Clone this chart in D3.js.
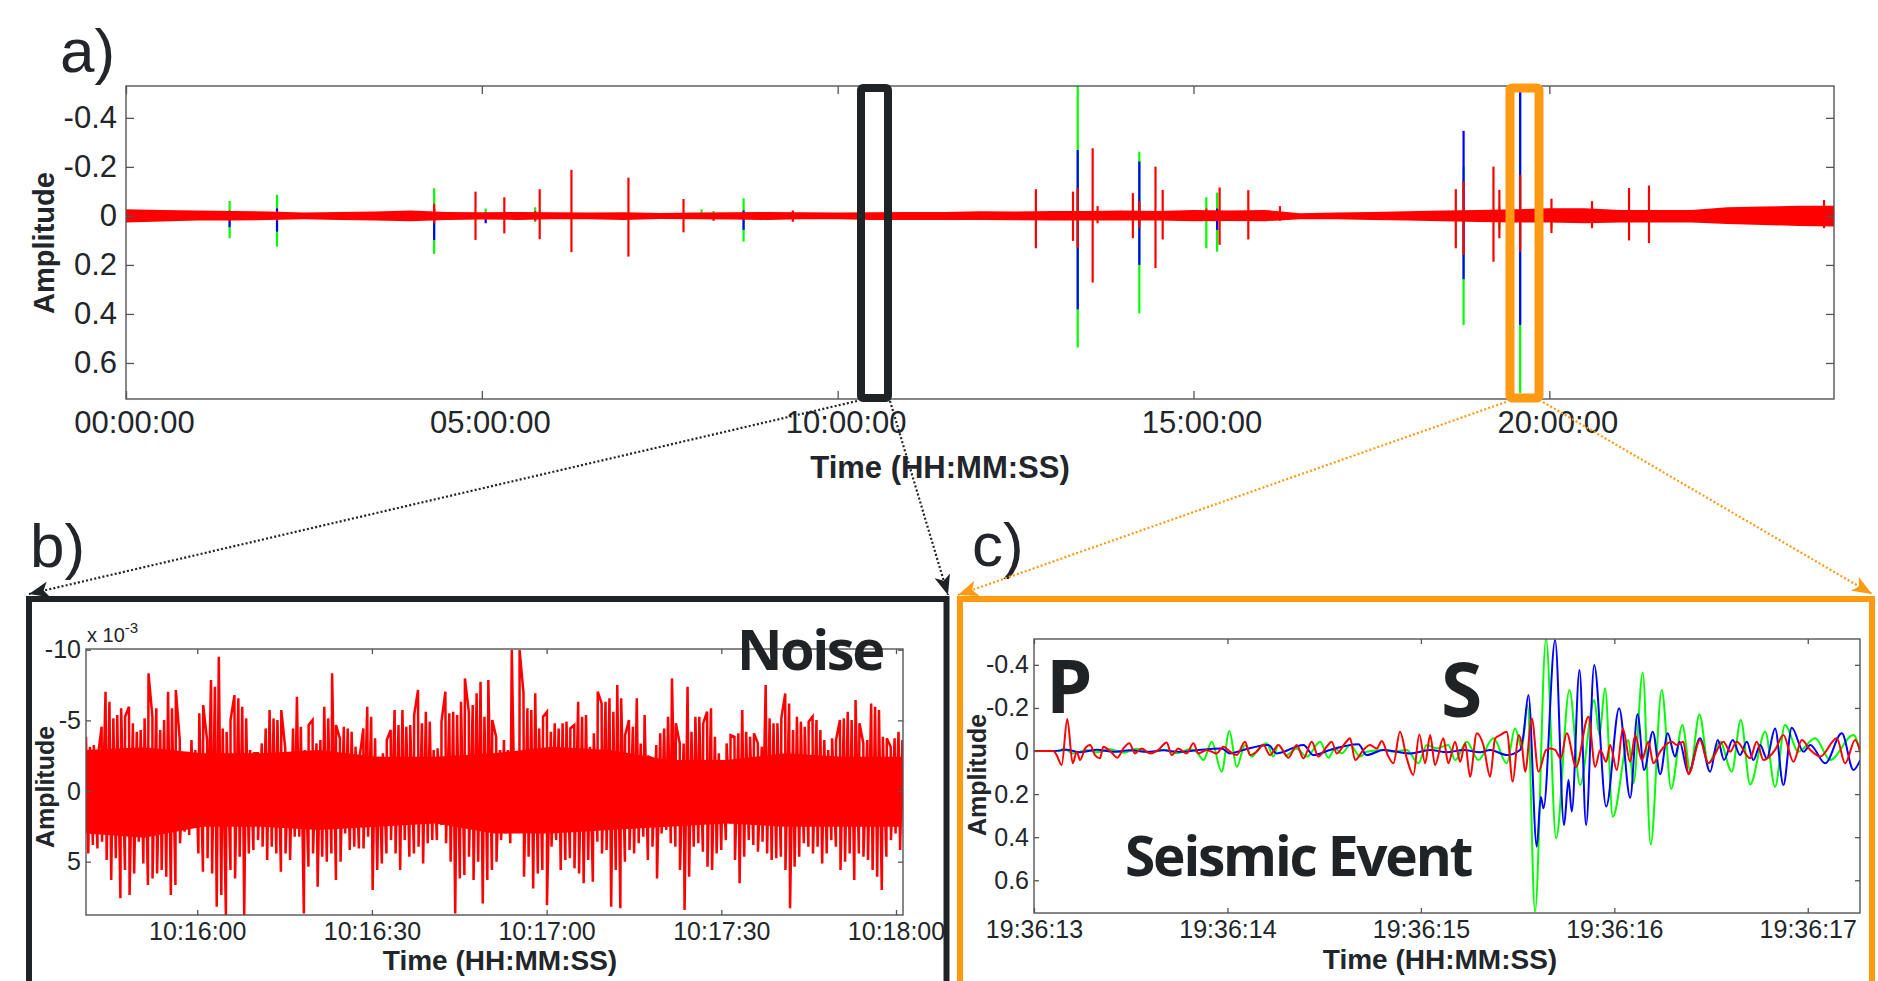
<!DOCTYPE html>
<html>
<head>
<meta charset="utf-8">
<script src="https://cdn.jsdelivr.net/npm/d3@7"></script>
<style>
  body { margin: 0; background: #fff; }
  svg text { font-family: "Liberation Sans", Arial, sans-serif; fill: #22262a; }
  .big { font-family: "Open Sans", "Noto Sans", sans-serif; font-weight: 700; fill: #1f2326; }
  .title { font-weight: bold; }
  .axis .domain { display: none; }
  .axis line { stroke: #555; stroke-width: 1.3; }
</style>
</head>
<body>
<svg id="fig" width="1878" height="981"></svg>
<script>

// ---- panel a: 24 h record (hours, amplitude) ----
var hourTicks = [0, 5, 10, 15, 20];
var ampTicks = [-0.4, -0.2, 0, 0.2, 0.4, 0.6];

var bandHours = d3.range(0, 24.01, 0.5);
var bandTop = [-0.027, -0.0245, -0.0218, -0.0204, -0.0177, -0.0136, -0.0163, -0.0177, -0.0218, -0.0163,
  -0.015, -0.0163, -0.015, -0.0136, -0.015, -0.0122, -0.0136, -0.015, -0.0163, -0.015,
  -0.0136, -0.015, -0.0163, -0.0163, -0.019, -0.0177, -0.0204, -0.0204, -0.0218, -0.0204,
  -0.0245, -0.0218, -0.0245, -0.0109, -0.0136, -0.0163, -0.019, -0.0218, -0.0245, -0.027,
  -0.0313, -0.0313, -0.0245, -0.0245, -0.0245, -0.0354, -0.038, -0.041, -0.041];
var bandBottom = [0.027, 0.023, 0.019, 0.019, 0.0163, 0.0136, 0.0163, 0.019, 0.0218, 0.0163,
  0.015, 0.0163, 0.0136, 0.0136, 0.0163, 0.0122, 0.0136, 0.015, 0.0163, 0.0136,
  0.0136, 0.0163, 0.0163, 0.0163, 0.0163, 0.0177, 0.019, 0.019, 0.019, 0.019,
  0.0218, 0.0204, 0.0218, 0.0136, 0.0136, 0.0163, 0.019, 0.0218, 0.0245, 0.027,
  0.027, 0.030, 0.027, 0.027, 0.027, 0.0327, 0.0367, 0.041, 0.0435];

var spikeHours = [1.456, 2.122, 4.33, 4.911, 5.054, 5.316, 5.75, 5.813, 6.259, 7.06,
  7.834, 8.087, 8.256, 8.678, 9.37, 12.785, 13.307, 13.373, 13.583, 13.652,
  14.148, 14.239, 14.466, 14.567, 15.18, 15.332, 15.367, 15.77, 16.215, 18.686,
  18.795, 19.215, 19.298, 19.59, 20.03, 20.6, 21.12, 21.4, 23.86];
var spikeGreen = [[-0.061, 0.091], [-0.086, 0.125], [-0.113, 0.155], [0, 0], [-0.03, 0.01], [0, 0], [-0.035, 0.025], [0, 0], [0, 0], [0, 0],
  [0, 0], [-0.027, 0.01], [-0.02, 0.015], [-0.072, 0.105], [0, 0], [0, 0], [0, 0], [-0.53, 0.537], [0, 0], [0, 0],
  [0, 0], [-0.262, 0.397], [0, 0], [0, 0], [-0.076, 0.132], [-0.095, 0.146], [0, 0], [0, 0], [0, 0], [0, 0],
  [-0.2, 0.445], [0, 0], [-0.04, 0.055], [-0.52, 0.723], [-0.03, 0.05], [0, 0], [0, 0], [0, 0], [0, 0]];
var spikeBlue = [[-0.01, 0.046], [-0.031, 0.064], [-0.03, 0.098], [0, 0], [-0.01, 0.03], [0, 0], [0, 0], [0, 0], [0, 0], [0, 0],
  [0, 0], [0, 0], [0, 0], [-0.022, 0.057], [0, 0], [0, 0], [0, 0], [-0.269, 0.381], [0, 0], [0, 0],
  [0, 0], [-0.222, 0.2], [0, 0], [0, 0], [0, 0], [-0.03, 0.057], [0, 0], [0, 0], [0, 0], [0, 0],
  [-0.347, 0.258], [0, 0], [0, 0], [-0.507, 0.445], [0, 0], [0, 0], [0, 0], [0, 0], [0, 0]];
var spikeRed = [[-0.022, 0.022], [-0.02, 0.02], [-0.05, 0.03], [-0.099, 0.098], [-0.015, 0.015], [-0.076, 0.071], [-0.02, 0.02], [-0.109, 0.095], [-0.188, 0.148], [-0.156, 0.166],
  [-0.069, 0.067], [0, 0], [-0.012, 0.02], [0, 0], [-0.022, 0.024], [-0.109, 0.132], [-0.099, 0.102], [-0.114, 0.131], [-0.276, 0.272], [-0.04, 0.03],
  [-0.093, 0.091], [-0.06, 0.05], [-0.201, 0.213], [-0.106, 0.096], [-0.03, 0.02], [0, 0], [-0.116, 0.118], [-0.105, 0.096], [-0.04, 0.02], [-0.109, 0.132],
  [-0.14, 0.159], [-0.201, 0.187], [-0.106, 0.091], [-0.167, 0.146], [-0.07, 0.07], [-0.06, 0.05], [-0.114, 0.1], [-0.124, 0.111], [-0.065, 0.05]];

// ---- panel b: noise window (seconds after 10:16:00, amplitude x 1e-3) ----
var noiseTicks = [0, 30, 60, 90, 120];
var noiseAmpTicks = [-10, -5, 0, 5];
var noiseSpan = [-19.1, 121.1];
var noiseUpper = [-3.84, -3.14, -3.25, -2.31, -4.55, -7.03, -6.32, -5.14, -5.38, -5.85,
  -5.26, -5.97, -4.79, -4.2, -4.32, -5.14, -8.33, -5.26, -5.85, -4.32,
  -5.02, -7.03, -5.85, -7.15, -3.61, -2.31, -2.78, -3.61, -2.9, -5.5,
  -6.08, -3.61, -7.85, -7.38, -9.5, -4.43, -4.2, -5.02, -6.79, -6.56,
  -5.97, -5.14, -2.9, -2.67, -2.67, -3.37, -4.43, -5.73, -5.14, -5.02,
  -5.73, -3.02, -2.67, -4.43, -6.67, -4.55, -2.9, -4.67, -5.02, -3.37,
  -3.61, -5.97, -5.14, -8.33, -4.67, -3.73, -4.55, -4.43, -4.2, -3.14,
  -2.31, -4.43, -5.97, -5.26, -3.73, -2.43, -2.67, -3.61, -4.32, -5.73,
  -4.67, -5.73, -4.55, -4.67, -5.38, -7.15, -4.79, -5.61, -4.91, -2.9,
  -3.02, -4.91, -7.03, -5.5, -5.61, -5.38, -6.32, -7.97, -5.61, -6.08,
  -6.91, -7.74, -5.26, -7.85, -5.02, -3.84,
  -2.9, -3.61, -2.9, -9.98, -2.67, -9.98, -6.91, -5.85, -5.73, -6.91,
  -4.43, -5.26, -5.61, -4.2, -4.79, -4.43, -4.79, -4.91, -4.43, -4.67,
  -6.32, -5.26, -5.38, -3.14, -4.08, -7.03, -6.2, -6.32, -6.56, -5.61,
  -7.5, -6.56, -3.96, -5.02, -4.55, -6.56, -3.37, -5.38, -2.43, -2.31,
  -3.25, -4.08, -4.43, -5.26, -7.97, -4.79, -3.37, -3.37, -7.38, -4.2,
  -5.26, -5.26, -4.79, -5.61, -5.85, -3.84, -2.67, -2.19, -3.37, -3.96,
  -3.84, -4.08, -5.73, -4.2, -3.84, -4.08, -3.37, -3.14, -7.5, -5.14,
  -4.79, -4.79, -5.14, -6.91, -6.2, -4.32, -5.26, -4.91, -4.55, -4.91,
  -5.26, -5.02, -4.32, -3.61, -2.9, -3.73, -3.61, -5.02, -5.14, -5.61,
  -5.02, -6.44, -4.79, -3.37, -3.61, -6.2, -5.97, -5.73, -3.84, -3.73,
  -3.14, -3.73, -4.2, -3.61];
var noiseLower = [4.41, 3.82, 4.06, 3.58, 4.88, 6.3, 4.76, 7.59, 5.59, 7.36,
  5.83, 3.58, 5.12, 6.65, 6.18, 5.83, 5.59, 6.06, 7.36, 6.65,
  3.7, 2.88, 3.11, 2.52, 4.41, 5.71, 4.76, 5.83, 8.18, 7.36,
  8.77, 5.59, 6.18, 4.65, 8.77, 4.41, 4.17, 3.47, 3.94, 4.88,
  3.94, 4.41, 5.71, 4.41, 4.88, 3.23, 3.23, 8.66, 5.35, 4.41,
  6.77, 4.65, 5.0, 4.41, 6.3, 5.0, 3.0, 4.17, 3.94, 4.06,
  4.06, 3.23, 7.0, 5.59, 5.12, 4.41, 3.47, 4.41, 5.59, 3.47,
  4.65, 4.41, 3.94, 5.12, 3.7, 3.47, 3.47, 2.41, 3.7, 5.0,
  8.66, 6.18, 5.94, 4.65, 6.3, 5.0, 7.95, 6.3, 5.59, 5.0,
  3.47, 3.0,
  3.7, 2.52, 2.05, 6.06, 4.65, 6.89, 5.83, 5.59, 8.07, 3.94,
  3.47, 5.59, 4.88, 4.76, 5.47, 5.83, 6.53, 4.88, 6.42, 3.58,
  4.41, 4.17, 8.18, 5.59, 8.3, 5.0, 4.17, 4.41, 3.7, 3.23,
  4.88, 3.94, 6.18, 3.0, 2.76, 3.7, 3.94, 5.59, 8.42, 6.06,
  3.94, 3.7, 4.29, 5.35, 5.59, 4.41, 4.17, 3.47, 2.29, 4.88,
  6.53, 4.65, 3.47, 3.82, 4.29, 3.58, 4.41, 4.88, 4.76, 4.65,
  5.59, 8.3, 5.35, 4.65, 3.7, 3.94, 4.41, 3.94, 5.12, 4.41,
  3.47, 3.94, 5.59, 5.0, 4.41, 6.3, 4.41, 4.65, 4.88, 5.59,
  6.06, 7.0, 4.65, 3.47, 3.0, 4.17, 6.06];
// solid core of the noise band, every 10 s from the start of the window
var noiseCoreTop = [-2.9, -3.1, -2.67, -2.67, -2.9, -2.43, -2.43, -2.67, -3.14, -2.9, -2.19, -2.19, -2.67, -2.43, -2.43];
var noiseCoreBottom = [3.0, 3.3, 2.52, 2.52, 2.76, 2.52, 2.29, 3.0, 3.0, 2.76, 2.52, 2.29, 2.52, 2.52, 2.52];

// ---- panel c: seismic event (seconds after 19:36:13, amplitude) ----
var eventTicks = [0, 1, 2, 3, 4];
var eventGreen = [[0, 0], [0.134, 0], [0.152, -0.012], [0.203, 0.011], [0.272, -0.005], [0.324, 0.006], [0.393, -0.008], [0.462, 0.008], [0.531, -0.01], [0.6, 0.008],
  [0.669, -0.006], [0.738, 0.01], [0.807, -0.008], [0.841, 0.005], [0.876, 0.042], [0.919, -0.043], [0.97, 0.096], [1.01, -0.093], [1.048, 0.073], [1.091, -0.028],
  [1.125, 0.026], [1.169, -0.02], [1.203, -0.036], [1.237, 0.026], [1.263, -0.028], [1.306, 0.019], [1.358, -0.012], [1.41, 0.026], [1.479, -0.043], [1.522, 0.031],
  [1.556, -0.012], [1.591, 0.011], [1.634, -0.028], [1.686, 0.026], [1.72, 0.003], [1.806, -0.005], [1.858, 0.003], [1.927, -0.005], [1.987, 0.057], [2.03, -0.028],
  [2.082, -0.012], [2.142, -0.028], [2.177, 0.042], [2.237, -0.043], [2.297, 0.042], [2.375, -0.059], [2.444, 0.057], [2.487, -0.105], [2.522, -0.012], [2.551, -0.213],
  [2.59, 0.746], [2.647, -0.523], [2.699, 0.405], [2.768, -0.283], [2.823, 0.158], [2.896, -0.237], [2.923, -0.074], [2.952, -0.291], [2.992, 0.305], [3.073, -0.051],
  [3.099, 0.15], [3.147, -0.365], [3.188, 0.433], [3.245, -0.283], [3.294, 0.176], [3.352, -0.121], [3.392, 0.088], [3.44, -0.17], [3.486, 0.057], [3.547, -0.043],
  [3.607, 0.096], [3.654, -0.144], [3.702, 0.155], [3.78, -0.09], [3.831, 0.166], [3.882, -0.121], [3.952, 0.003], [4.038, -0.059], [4.116, 0.042], [4.236, -0.074],
  [4.271, 0.003]];
var eventBlue = [[0, 0], [0.1, 0], [0.169, -0.006], [0.238, 0.006], [0.324, -0.006], [0.41, 0.004], [0.496, -0.004], [0.583, 0.004], [0.669, -0.003], [0.755, 0.004],
  [0.841, -0.004], [0.97, -0.012], [1.013, 0.011], [1.082, -0.005], [1.212, -0.028], [1.255, 0.011], [1.393, -0.028], [1.444, 0.019], [1.53, -0.005], [1.677, -0.031],
  [1.72, 0.019], [1.806, -0.005], [1.944, 0.011], [2.048, -0.005], [2.134, 0.006], [2.22, -0.005], [2.306, 0.006], [2.358, -0.005], [2.444, 0.019], [2.513, -0.005],
  [2.53, -0.074], [2.556, -0.26], [2.599, 0.444], [2.62, 0.212], [2.634, 0.266], [2.694, -0.515], [2.74, 0.344], [2.763, 0.135], [2.78, 0.281], [2.82, -0.376],
  [2.854, 0.344], [2.896, -0.399], [2.958, 0.258], [3.025, -0.198], [3.082, 0.217], [3.12, -0.172], [3.154, 0.088], [3.199, -0.09], [3.237, 0.108], [3.276, -0.082],
  [3.314, 0.026], [3.337, -0.043], [3.383, 0.104], [3.443, -0.059], [3.495, 0.096], [3.535, -0.051], [3.567, 0.042], [3.612, -0.051], [3.65, 0.019], [3.685, -0.043],
  [3.719, 0.042], [3.754, -0.028], [3.788, 0.034], [3.831, -0.105], [3.874, 0.158], [3.917, -0.108], [3.978, 0.003], [4.013, -0.028], [4.09, 0.057], [4.176, -0.082],
  [4.236, 0.088], [4.271, 0.042]];
var eventRed = [[0, 0], [0.1, 0], [0.117, 0.019], [0.143, 0.065], [0.172, -0.149], [0.2, 0.057], [0.221, 0.003], [0.238, 0.042], [0.264, -0.012], [0.29, -0.028],
  [0.315, 0.019], [0.341, 0.034], [0.358, -0.02], [0.393, 0], [0.431, 0.031], [0.462, -0.012], [0.493, -0.036], [0.522, 0.011], [0.557, -0.012], [0.6, 0.011],
  [0.643, -0.005], [0.686, -0.04], [0.712, 0.019], [0.746, -0.012], [0.789, 0.011], [0.824, -0.036], [0.85, 0.011], [0.893, -0.005], [0.944, 0.011], [0.979, -0.02],
  [1.013, 0.003], [1.048, 0.019], [1.091, -0.043], [1.117, 0.019], [1.151, 0.003], [1.186, -0.028], [1.22, 0.019], [1.263, -0.028], [1.315, 0.031], [1.358, -0.028],
  [1.393, 0.034], [1.436, -0.043], [1.47, 0.026], [1.513, -0.02], [1.539, -0.043], [1.565, 0.011], [1.608, -0.036], [1.634, -0.059], [1.66, 0.042], [1.703, -0.005],
  [1.737, -0.028], [1.772, -0.012], [1.798, -0.046], [1.832, 0.026], [1.858, 0.057], [1.892, -0.09], [1.927, 0.034], [1.961, 0.111], [1.992, -0.077], [2.022, 0.057],
  [2.048, -0.074], [2.073, 0.065], [2.116, -0.059], [2.142, 0.057], [2.177, -0.043], [2.203, 0.05], [2.229, -0.036], [2.254, 0.119], [2.289, -0.082], [2.323, -0.028],
  [2.358, 0.119], [2.384, -0.059], [2.41, -0.074], [2.444, -0.09], [2.475, 0.142], [2.505, -0.074], [2.522, -0.028], [2.539, 0.096], [2.573, -0.151], [2.608, 0.096],
  [2.647, -0.005], [2.668, -0.012], [2.694, -0.005], [2.723, 0.034], [2.754, -0.082], [2.802, 0.073], [2.866, -0.159], [2.901, 0.073], [2.927, -0.005], [2.958, 0.05],
  [2.978, -0.028], [3.013, 0.088], [3.044, -0.105], [3.082, 0.05], [3.108, -0.074], [3.142, 0.042], [3.176, -0.043], [3.202, 0.057], [3.237, 0.003], [3.297, -0.043],
  [3.323, -0.028], [3.357, -0.043], [3.383, 0.108], [3.443, -0.051], [3.486, 0.057], [3.564, -0.043], [3.599, 0.003], [3.633, -0.043], [3.702, 0.034], [3.736, -0.043],
  [3.771, 0.042], [3.831, -0.005], [3.874, -0.074], [3.926, 0.05], [3.969, -0.051], [4.013, -0.005], [4.064, 0.026], [4.15, -0.059], [4.193, 0.057], [4.245, -0.051],
  [4.271, 0.003]];

var GREEN = "#00ff00", BLUE = "#0000ff", RED = "#ff0000",
    DARK = "#1f2326", ORANGE = "#ff9a12";

var svg = d3.select("#fig");

function hms(s) {
  var f = d3.format("02d");
  return f(Math.floor(s / 3600)) + ":" + f(Math.floor(s / 60) % 60) + ":" + f(Math.round(s) % 60);
}

var ampFormat = d => String(+d.toFixed(1));

// MATLAB style box with inward ticks on all four sides
function drawFrame(g, x, y, opt) {
  var w = x.range()[1] - x.range()[0],
      h = y.range()[1] - y.range()[0];

  g.append("rect")
      .attr("width", w)
      .attr("height", h)
      .attr("fill", "none")
      .attr("stroke", "#555")
      .attr("stroke-width", 1.4);

  var bottom = g.append("g")
      .attr("class", "axis")
      .attr("transform", "translate(0," + h + ")")
      .call(d3.axisBottom(x).tickValues(opt.xTicks).tickFormat(opt.xFormat)
        .tickSizeInner(-opt.tick).tickSizeOuter(0).tickPadding(opt.xPad));
  bottom.selectAll("text")
      .attr("dx", opt.xShift || 0)
      .style("font-size", opt.font + "px");

  g.append("g")
      .attr("class", "axis")
      .call(d3.axisTop(x).tickValues(opt.xTicks).tickFormat("")
        .tickSizeInner(-opt.tick).tickSizeOuter(0));

  g.append("g")
      .attr("class", "axis")
      .call(d3.axisLeft(y).tickValues(opt.yTicks).tickFormat(opt.yFormat)
        .tickSizeInner(-opt.tick).tickSizeOuter(0).tickPadding(opt.yPad))
    .selectAll("text")
      .style("font-size", opt.font + "px");

  g.append("g")
      .attr("class", "axis")
      .attr("transform", "translate(" + w + ",0)")
      .call(d3.axisRight(y).tickValues(opt.yTicks).tickFormat("")
        .tickSizeInner(-opt.tick).tickSizeOuter(0));

  g.selectAll(".axis text").attr("fill", "#22262a");
}

function clip(id, x, y) {
  svg.append("clipPath")
      .attr("id", id)
    .append("rect")
      .attr("width", x.range()[1] - x.range()[0])
      .attr("height", y.range()[1] - y.range()[0]);
}

function label(x, y, text, size, cls, rotate) {
  var t = svg.append("text")
      .attr("class", cls || null)
      .attr("text-anchor", rotate ? "middle" : (cls == "title" ? "middle" : "start"))
      .style("font-size", size + "px")
      .text(text);
  if (rotate) t.attr("transform", "translate(" + x + "," + y + ") rotate(-90)");
  else t.attr("x", x).attr("y", y);
  return t;
}

// ---------------- panel a ----------------
var xa = d3.scaleLinear().domain([0, 24]).range([0, 1708]);
var ya = d3.scaleLinear().domain([-0.53, 0.747]).range([0, 313]);

var ga = svg.append("g").attr("transform", "translate(126,86)");
clip("clip-a", xa, ya);
var pa = ga.append("g").attr("clip-path", "url(#clip-a)");

function drawSpikes(ranges, color) {
  pa.append("g")
    .selectAll("line")
    .data(spikeHours.map((h, i) => [h, ranges[i]]).filter(d => d[1][0] != d[1][1]))
    .enter().append("line")
      .attr("x1", d => xa(d[0]))
      .attr("x2", d => xa(d[0]))
      .attr("y1", d => ya(d[1][0]))
      .attr("y2", d => ya(d[1][1]))
      .attr("stroke", color)
      .attr("stroke-width", 2.2);
}

drawSpikes(spikeGreen, GREEN);
drawSpikes(spikeBlue, BLUE);

pa.append("path")
    .datum(bandHours.map((h, i) => [h, bandTop[i], bandBottom[i]]))
    .attr("d", d3.area()
      .x(d => xa(d[0]))
      .y0(d => ya(d[1]))
      .y1(d => ya(d[2])))
    .attr("fill", RED);

drawSpikes(spikeRed, RED);

drawFrame(ga, xa, ya, {
  xTicks: hourTicks, xFormat: h => hms(h * 3600), xPad: 12, xShift: 8,
  yTicks: ampTicks, yFormat: ampFormat, yPad: 9, tick: 8, font: 31
});

// ---------------- panel b ----------------
var xb = d3.scaleLinear().domain([-19.1, 121.2]).range([0, 817]);
var yb = d3.scaleLinear().domain([-10.05, 8.77]).range([0, 266]);

var gb = svg.append("g").attr("transform", "translate(86,649)");
clip("clip-b", xb, yb);
var pb = gb.append("g").attr("clip-path", "url(#clip-b)");

pb.append("path")
    .datum(noiseCoreTop.map((v, i) => [noiseSpan[0] + i * 10, v, noiseCoreBottom[i]]))
    .attr("d", d3.area()
      .x(d => xb(d[0]))
      .y0(d => yb(d[1]))
      .y1(d => yb(d[2])))
    .attr("fill", RED);

var stepU = (noiseSpan[1] - noiseSpan[0]) / (noiseUpper.length - 1),
    stepL = (noiseSpan[1] - noiseSpan[0]) / (noiseLower.length - 1);
var noisePts = noiseUpper.map((v, i) => [noiseSpan[0] + i * stepU, v])
    .concat(noiseLower.map((v, i) => [noiseSpan[0] + (i + 0.5) * stepL, v]))
    .sort((a, b) => a[0] - b[0]);

pb.append("path")
    .datum(noisePts)
    .attr("d", d3.line().x(d => xb(d[0])).y(d => yb(d[1])))
    .attr("fill", "none")
    .attr("stroke", RED)
    .attr("stroke-width", 2.5);

drawFrame(gb, xb, yb, {
  xTicks: noiseTicks, xFormat: s => hms(10 * 3600 + 16 * 60 + s), xPad: 7,
  yTicks: noiseAmpTicks, yFormat: d => String(d), yPad: 5, tick: 5, font: 25
});

// ---------------- panel c ----------------
var xc = d3.scaleLinear().domain([0, 4.27]).range([0, 826]);
var yc = d3.scaleLinear().domain([-0.52, 0.752]).range([0, 274]);

var gc = svg.append("g").attr("transform", "translate(1034,639)");
clip("clip-c", xc, yc);
var pc = gc.append("g").attr("clip-path", "url(#clip-c)");

var wave = d3.line()
    .x(d => xc(d[0]))
    .y(d => yc(d[1]))
    .curve(d3.curveMonotoneX);

[[eventGreen, GREEN], [eventBlue, BLUE], [eventRed, RED]].forEach(d => {
  pc.append("path")
      .datum(d[0])
      .attr("d", wave)
      .attr("fill", "none")
      .attr("stroke", d[1])
      .attr("stroke-width", 2);
});

drawFrame(gc, xc, yc, {
  xTicks: eventTicks, xFormat: s => hms(19 * 3600 + 36 * 60 + 13 + s), xPad: 7,
  yTicks: ampTicks, yFormat: ampFormat, yPad: 5, tick: 5, font: 25
});

// ---------------- texts ----------------
label(60, 72, "a)", 62).attr("fill", "#111");
label(30, 567, "b)", 62).attr("fill", "#111");
label(972, 566, "c)", 62).attr("fill", "#111");

label(940, 478, "Time (HH:MM:SS)", 31, "title");
label(500, 970, "Time (HH:MM:SS)", 28, "title");
label(1440, 969, "Time (HH:MM:SS)", 28, "title");

label(54, 243, "Amplitude", 29, "title", true);
label(54, 787, "Amplitude", 25, "title", true);
label(986, 775, "Amplitude", 25, "title", true);

var exp = label(87, 642, "x 10", 20);
exp.append("tspan").attr("dy", -9).style("font-size", "15px").text("-3");

label(737, 670, "Noise", 56, "big").style("letter-spacing", "-2.5px");
label(1046, 713, "P", 74, "big");
label(1441, 717, "S", 75, "big");
label(1125, 876, "Seismic Event", 55, "big").style("letter-spacing", "-2.2px");

// ---------------- zoom boxes and arrows ----------------
svg.append("rect")
    .attr("x", 861).attr("y", 88).attr("width", 27).attr("height", 310)
    .attr("rx", 2)
    .attr("fill", "none").attr("stroke", DARK).attr("stroke-width", 8);

svg.append("rect")
    .attr("x", 1510).attr("y", 88).attr("width", 29).attr("height", 310)
    .attr("rx", 2)
    .attr("fill", "none").attr("stroke", ORANGE).attr("stroke-width", 9);

svg.append("rect")
    .attr("x", 29).attr("y", 599).attr("width", 917.5).attr("height", 420)
    .attr("fill", "none").attr("stroke", DARK).attr("stroke-width", 6);

svg.append("rect")
    .attr("x", 960).attr("y", 599).attr("width", 912).attr("height", 420)
    .attr("fill", "none").attr("stroke", ORANGE).attr("stroke-width", 6);

var defs = svg.append("defs");
[["arrow-dark", DARK], ["arrow-orange", ORANGE]].forEach(d => {
  defs.append("marker")
      .attr("id", d[0])
      .attr("markerUnits", "userSpaceOnUse")
      .attr("viewBox", "0 0 20 16")
      .attr("refX", 20).attr("refY", 8)
      .attr("markerWidth", 20).attr("markerHeight", 16)
      .attr("orient", "auto")
    .append("path")
      .attr("d", "M0,0L20,8L0,16L5,8Z")
      .attr("fill", d[1]);
});

var arrows = [
  [857, 401, 29, 594, DARK, "arrow-dark"],
  [890, 401, 948, 595, DARK, "arrow-dark"],
  [1506, 402, 958, 595, ORANGE, "arrow-orange"],
  [1543, 402, 1872, 594, ORANGE, "arrow-orange"]
];

svg.append("g")
  .selectAll("line")
  .data(arrows)
  .enter().append("line")
    .attr("x1", d => d[0]).attr("y1", d => d[1])
    .attr("x2", d => d[2]).attr("y2", d => d[3])
    .attr("stroke", d => d[4])
    .attr("stroke-width", 2.2)
    .attr("stroke-dasharray", "2,2.2")
    .attr("marker-end", d => "url(#" + d[5] + ")");

</script>
</body>
</html>
